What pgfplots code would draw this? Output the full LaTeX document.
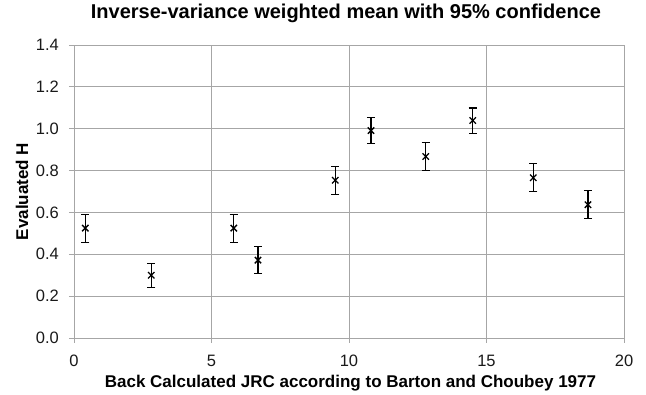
\documentclass[border=0pt]{standalone}
\usepackage{pgfplots}
\pgfplotsset{compat=1.18}
\usepackage{fontspec}
\setmainfont{Liberation Sans}
\definecolor{gridgray}{HTML}{A6A6A6}
\begin{document}
\begin{tikzpicture}[x=1pt,y=1pt]
\useasboundingbox (-74,-57) rectangle (572,338);
\begin{axis}[
  at={(0,0)}, anchor=south west,
  scale only axis, width=550pt, height=293pt,
  xmin=0, xmax=20, ymin=0, ymax=1.4,
  xtick={0,5,...,20}, ytick={0,0.2,...,1.4},
  grid=major, major grid style={gridgray, line width=0.9pt},
  axis line style={gridgray, line width=0.9pt},
  tick style={gridgray, line width=0.9pt},
  tick align=outside, major tick length=5pt,
  xtick pos=bottom, ytick pos=left,
  /pgf/number format/assume math mode=true,
  yticklabel style={/pgf/number format/fixed, /pgf/number format/fixed zerofill, /pgf/number format/precision=1},
  ticklabel style={font=\fontsize{16.5}{18}\selectfont, text=black!90, inner sep=0pt},
  xticklabel style={anchor=base, yshift=-23.7pt},
  yticklabel style={anchor=east, xshift=-10pt},
  xlabel={Back Calculated JRC according to Barton and Choubey 1977},
  ylabel={Evaluated H},
  label style={font=\bfseries\fontsize{17}{19}\selectfont, inner sep=0pt},
  xlabel style={at={(axis description cs:0.5027,-0.1696)}, anchor=base},
  ylabel style={at={(axis description cs:-0.0836,0.5)}, anchor=base},
  title={Inverse-variance weighted mean with 95\% confidence},
  title style={font=\bfseries\fontsize{20}{22}\selectfont, inner sep=0pt,
    at={(axis description cs:0.4945,1.0683)}, anchor=base},
]
\addplot[only marks, mark=x, mark size=4.5pt, black, line width=1.3pt,
  error bars/.cd, y dir=both, y explicit,
  error bar style={black, line width=1.1pt},
  error mark options={rotate=90, mark size=4.2pt, line width=1.1pt, black}]
coordinates {
(0.41,0.525) +- (0,0.067)
(2.81,0.300) +- (0,0.057)
(5.81,0.525) +- (0,0.067)
(6.69,0.372) +- (0,0.064)
(9.50,0.754) +- (0,0.067)
(10.80,0.991) +- (0,0.062)
(12.79,0.867) +- (0,0.065)
(14.50,1.039) +- (0,0.060)
(16.70,0.766) +- (0,0.068)
(18.69,0.637) +- (0,0.068)
};
\end{axis}
\end{tikzpicture}
\end{document}
